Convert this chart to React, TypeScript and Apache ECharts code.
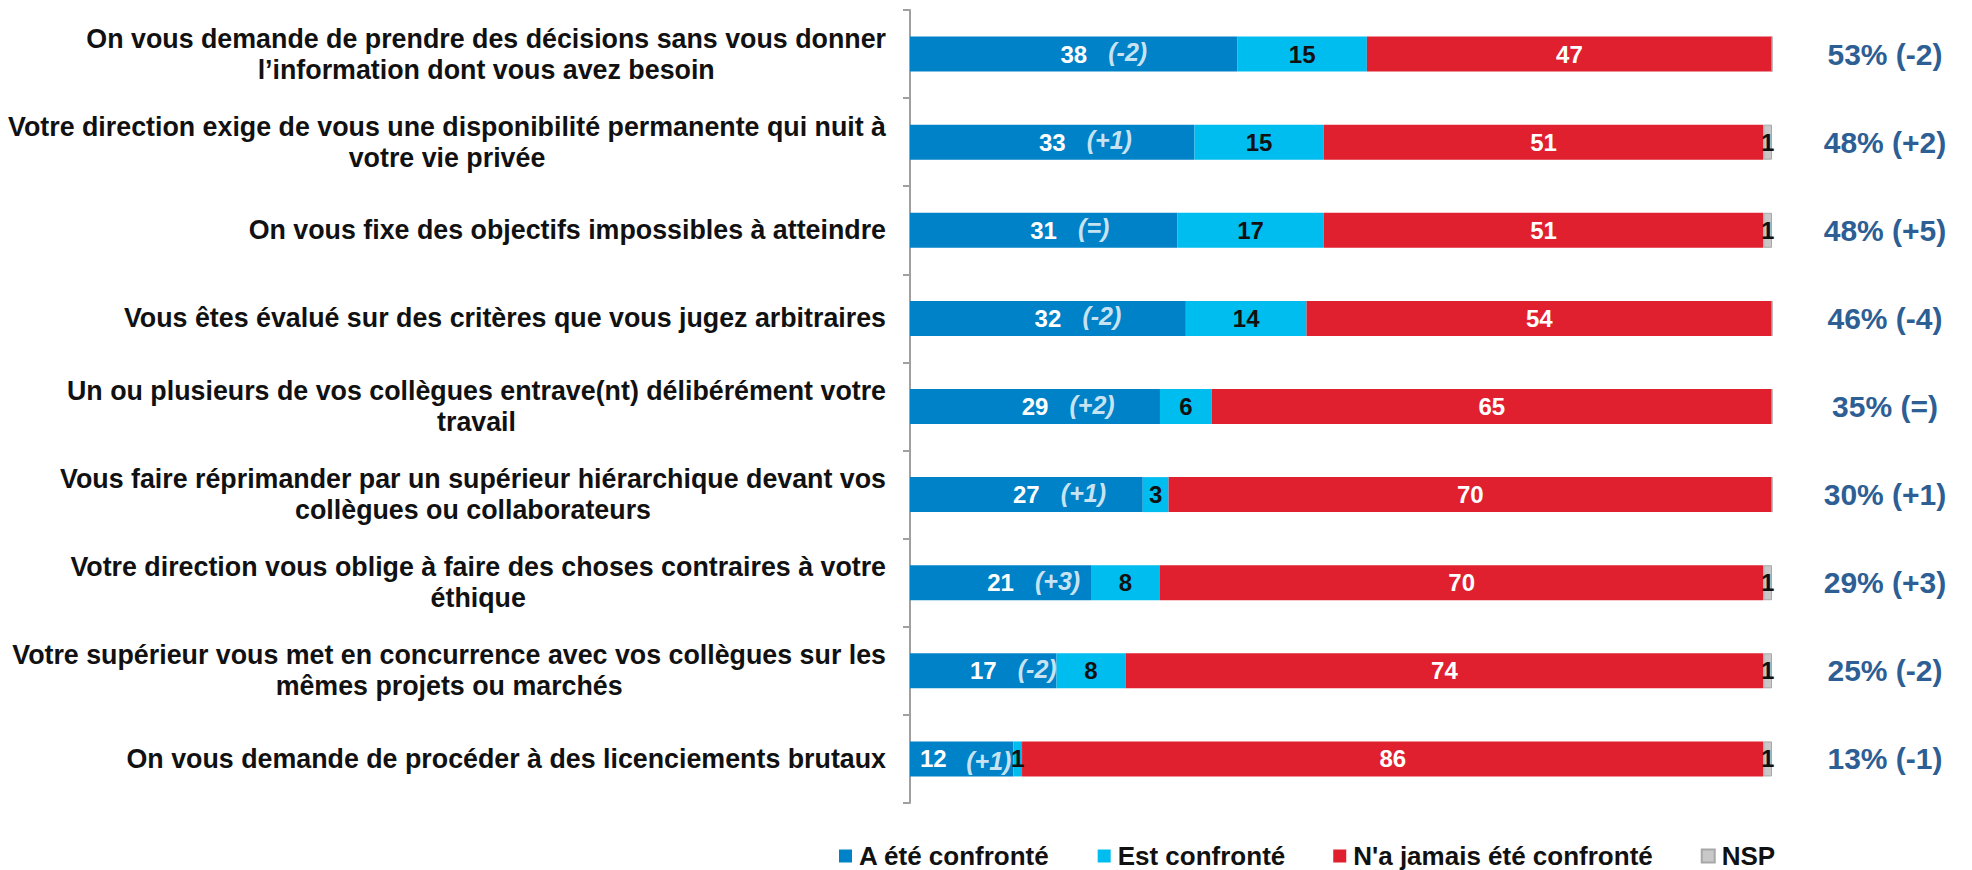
import React, { useEffect, useRef } from "react";
import * as echarts from "echarts";

const categories = [
  "On vous demande de prendre des décisions sans vous donner\nl’information dont vous avez besoin",
  "Votre direction exige de vous une disponibilité permanente qui nuit à\nvotre vie privée",
  "On vous fixe des objectifs impossibles à atteindre",
  "Vous êtes évalué sur des critères que vous jugez arbitraires",
  "Un ou plusieurs de vos collègues entrave(nt) délibérément votre\ntravail",
  "Vous faire réprimander par un supérieur hiérarchique devant vos\ncollègues ou collaborateurs",
  "Votre direction vous oblige à faire des choses contraires à votre\néthique",
  "Votre supérieur vous met en concurrence avec vos collègues sur les\nmêmes projets ou marchés",
  "On vous demande de procéder à des licenciements brutaux",
];

const seriesNames = ["A été confronté", "Est confronté", "N'a jamais été confronté", "NSP"];
const beenConfronted = [38, 33, 31, 32, 29, 27, 21, 17, 12];
const isConfronted = [15, 15, 17, 14, 6, 3, 8, 8, 1];
const neverConfronted = [47, 51, 51, 54, 65, 70, 70, 74, 86];
const nsp = [0, 1, 1, 0, 0, 0, 1, 1, 1];
const changes = ["(-2)", "(+1)", "(=)", "(-2)", "(+2)", "(+1)", "(+3)", "(-2)", "(+1)"];
const totals = ["53% (-2)", "48% (+2)", "48% (+5)", "46% (-4)", "35% (=)", "30% (+1)", "29% (+3)", "25% (-2)", "13% (-1)"];

const colors = ["#0082c8", "#00bdf0", "#e0202e", "#c8c8c8"];
const labelColors = ["#ffffff", "#111111", "#ffffff", "#111111"];
const FONT = "'Liberation Sans', Arial, sans-serif";
const SMALL = 15;

export default function App() {
  const ref = useRef<HTMLDivElement>(null);
  useEffect(() => {
    if (!ref.current) return;
    const chart = echarts.init(ref.current, undefined, { renderer: "svg" });
    const values = [beenConfronted, isConfronted, neverConfronted, nsp];
    const barSeries = values.map((arr, k) => ({
      name: seriesNames[k],
      type: "bar",
      stack: "total",
      yAxisIndex: 0,
      barWidth: 35,
      data: arr.map((v) =>
        k === 0 && v < SMALL
          ? { value: v, label: { position: "insideLeft", distance: 10 } }
          : v
      ),
      itemStyle: {
        color: colors[k],
        borderColor: k === 3 ? "#a8a8a8" : "transparent",
        borderWidth: k === 3 ? 1 : 0,
      },
      label: {
        show: true,
        position: "inside",
        formatter: (p: any) => (p.value ? String(p.value) : ""),
        color: labelColors[k],
        fontFamily: FONT,
        fontWeight: "bold",
        fontSize: 24,
      },
    }));
    const option: any = {
      animation: false,
      textStyle: { fontFamily: FONT },
      grid: { left: 910, right: 200, top: 10, bottom: 67, containLabel: false },
      legend: {
        data: seriesNames,
        left: 839,
        top: 843,
        padding: 0,
        itemWidth: 13,
        itemHeight: 13,
        itemGap: 48,
        icon: "rect",
        textStyle: { fontFamily: FONT, fontWeight: "bold", fontSize: 26, color: "#111", padding: [0, 0, 0, 2] },
      },
      xAxis: { type: "value", min: 0, max: 100, show: false },
      yAxis: [
        {
          type: "category",
          data: categories,
          inverse: true,
          axisLine: { show: true, lineStyle: { color: "#a0a0a0", width: 2 } },
          axisTick: { show: true, length: 7, lineStyle: { color: "#a0a0a0", width: 2 } },
          splitLine: { show: false },
          axisLabel: {
            margin: 24,
            interval: 0,
            formatter: (v: string) => v.split("\n").map((l) => `{c|${l}}`).join("\n"),
            rich: {
              c: {
                align: "center",
                fontFamily: FONT,
                fontWeight: "bold",
                fontSize: 26.8,
                lineHeight: 31,
                color: "#111",
              },
            },
          },
        },
        {
          type: "category",
          data: totals,
          inverse: true,
          position: "right",
          axisLine: { show: false },
          axisTick: { show: false },
          axisLabel: {
            margin: 113,
            align: "center",
            interval: 0,
            fontFamily: FONT,
            fontWeight: "bold",
            fontSize: 30,
            color: "#2d5e94",
          },
        },
      ],
      series: [
        ...barSeries,
        {
          name: "changes",
          type: "scatter",
          yAxisIndex: 0,
          symbolSize: 1,
          itemStyle: { color: "transparent" },
          z: 10,
          data: beenConfronted.map((v, i) =>
            v < SMALL
              ? { value: [v / 2, i], label: { offset: [4, 2] } }
              : [v / 2, i]
          ),
          label: {
            show: true,
            position: "right",
            distance: 0,
            offset: [34, -2],
            formatter: (p: any) => changes[p.dataIndex],
            color: "#ffffff",
            fontFamily: FONT,
            fontWeight: "bold",
            fontStyle: "italic",
            fontSize: 25,
          },
        },
      ],
    };
    chart.setOption(option);
    return () => chart.dispose();
  }, []);
  return (
    <div
      ref={ref}
      style={{ position: "fixed", left: 0, top: 0, width: 1972, height: 870, background: "#fff" }}
    />
  );
}
